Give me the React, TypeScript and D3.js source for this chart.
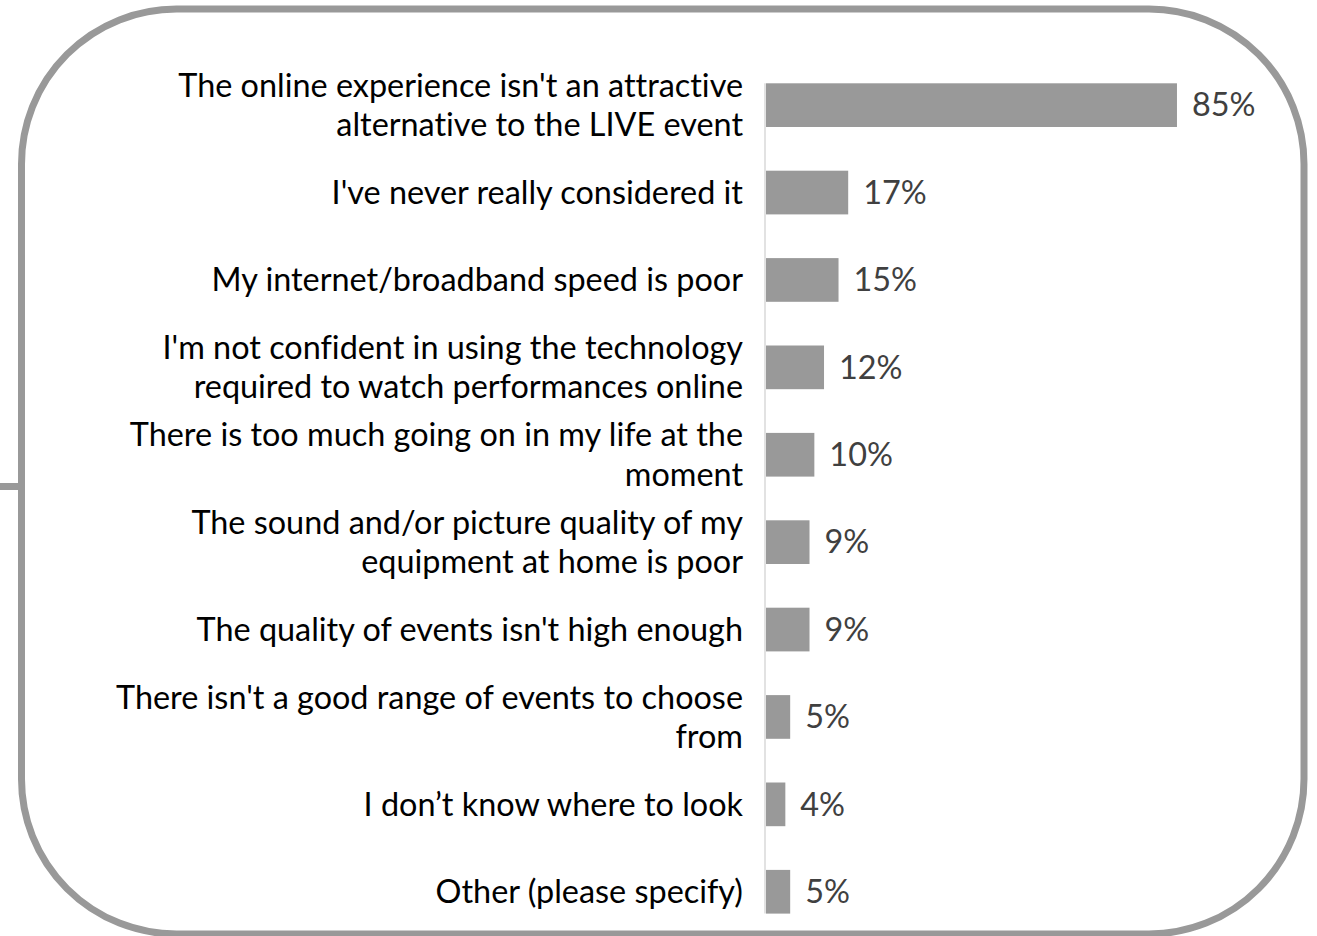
import React from "react";
import * as d3 from "d3";

const categories: string[] = [
  "The online experience isn't an attractive\nalternative to the LIVE event",
  "I've never really considered it",
  "My internet/broadband speed is poor",
  "I'm not confident in using the technology\nrequired to watch performances online",
  "There is too much going on in my life at the\nmoment",
  "The sound and/or picture quality of my\nequipment at home is poor",
  "The quality of events isn't high enough",
  "There isn't a good range of events to choose\nfrom",
  "I don\u2019t know where to look",
  "Other (please specify)",
];
const values: number[] = [85, 17, 15, 12, 10, 9, 9, 5, 4, 5];
const valueLabels: string[] = ["85%", "17%", "15%", "12%", "10%", "9%", "9%", "5%", "4%", "5%"];

const W = 1317;
const H = 936;
const FONT = "Lato, 'Open Sans', sans-serif";
const FS = 32.4;
const textStyle: React.CSSProperties = {
  fontVariantLigatures: "none",
  fontFeatureSettings: '"liga" 0, "clig" 0',
};

export default function App() {
  const x = d3.scaleLinear().domain([0, 100]).range([766, 1249.5]);
  const y = d3
    .scaleBand<string>()
    .domain(categories)
    .range([61.45, 935.45])
    .paddingInner(0.5)
    .paddingOuter(0.25);
  const bw = y.bandwidth();
  const firstTop = y(categories[0]) as number;
  const lastBottom = (y(categories[categories.length - 1]) as number) + bw;
  const lineH = 39.5;

  return (
    <svg
      width={W}
      height={H}
      style={{ position: "absolute", left: 0, top: 0, background: "#fff" }}
    >
      <rect x={0} y={0} width={W} height={H} fill="#fff" />
      <rect
        x={21.5}
        y={9}
        width={1304 - 21.5}
        height={934 - 9}
        rx={155}
        ry={155}
        fill="none"
        stroke="#999999"
        strokeWidth={7}
      />
      <line x1={0} x2={20} y1={486.5} y2={486.5} stroke="#999999" strokeWidth={7} />
      {categories.map((c, i) => {
        const y0 = y(c) as number;
        const cy = y0 + bw / 2;
        const lines = c.split("\n");
        const startY = cy - ((lines.length - 1) * lineH) / 2;
        return (
          <g key={i}>
            <rect
              x={x(0)}
              y={y0}
              width={x(values[i]) - x(0)}
              height={bw}
              fill="#999999"
            />
            <text
              x={x(values[i]) + 15}
              y={cy}
              dy="0.35em"
              fontFamily={FONT}
              fontSize={FS}
              fill="#404040"
              style={textStyle}
            >
              {valueLabels[i]}
            </text>
            <text
              textAnchor="end"
              fontFamily={FONT}
              fontSize={FS}
              fill="#000"
              style={textStyle}
            >
              {lines.map((l, j) => (
                <tspan key={j} x={743} y={startY + j * lineH} dy="0.35em">
                  {l}
                </tspan>
              ))}
            </text>
          </g>
        );
      })}
      <line
        x1={765}
        x2={765}
        y1={firstTop}
        y2={lastBottom}
        stroke="#d9d9d9"
        strokeWidth={1.5}
      />
    </svg>
  );
}
